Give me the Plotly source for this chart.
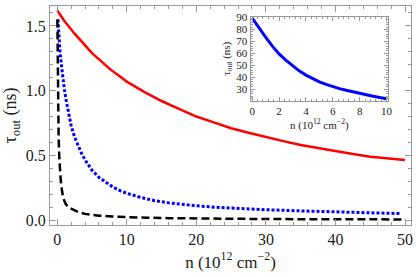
import plotly.graph_objects as go

# Main panel data
n_red = [0, 1, 2.5, 5, 7.5, 10, 12.5, 15, 17.5, 20, 22.5, 25, 27.5, 30, 32.5, 35, 37.5, 40, 42.5, 45, 47.5, 50]
tau_red = [1.62, 1.54, 1.44, 1.29, 1.17, 1.07, 0.99, 0.92, 0.86, 0.80, 0.755, 0.71, 0.675, 0.64, 0.61, 0.58, 0.555, 0.53, 0.51, 0.49, 0.475, 0.465]

n_blue = [0.1, 0.2, 0.4, 0.6, 0.8, 1.0, 1.3, 1.6, 2.0, 2.5, 3.0, 3.5, 4.0, 4.5, 5, 6, 7, 8, 9, 10, 12, 14, 16, 18, 20, 22.5, 25, 27.5, 30, 35, 40, 45, 49.3]
tau_blue = [1.55, 1.45, 1.30, 1.20, 1.10, 1.02, 0.92, 0.83, 0.73, 0.64, 0.575, 0.515, 0.465, 0.42, 0.385, 0.33, 0.29, 0.255, 0.228, 0.207, 0.175, 0.150, 0.133, 0.120, 0.110, 0.100, 0.092, 0.086, 0.080, 0.071, 0.063, 0.056, 0.050]

n_black = [0.02, 0.04, 0.07, 0.1, 0.15, 0.2, 0.3, 0.4, 0.5, 0.7, 0.9, 1.2, 1.6, 2.0, 2.5, 3, 4, 5, 6, 8, 10, 13, 16, 20, 25, 30, 35, 40, 45, 50]
tau_black = [1.55, 1.35, 1.10, 0.92, 0.76, 0.64, 0.48, 0.38, 0.31, 0.22, 0.165, 0.125, 0.10, 0.088, 0.075, 0.063, 0.048, 0.040, 0.034, 0.027, 0.022, 0.018, 0.015, 0.012, 0.010, 0.008, 0.007, 0.006, 0.0055, 0.005]

# Inset data
n_inset = [0, 0.5, 1, 1.5, 2, 2.5, 3, 3.5, 4, 4.5, 5, 5.5, 6, 6.5, 7, 7.5, 8, 8.5, 9, 9.5, 10]
tau_inset = [89.5, 81, 73.5, 66, 59.5, 54.3, 49.5, 45.3, 41.7, 38.7, 36, 33.9, 32, 30.4, 29, 27.6, 26.3, 25.1, 24, 22.9, 22]

x_ticks = [0, 10, 20, 30, 40, 50]
y_ticks = [0.0, 0.5, 1.0, 1.5]
y_tick_text = ["0.0", "0.5", "1.0", "1.5"]
xi_ticks = [0, 2, 4, 6, 8, 10]
yi_ticks = [30, 40, 50, 60, 70, 80, 90]

FONT = "Liberation Serif"
FRAME = "#999999"

fig = go.Figure()
fig.add_trace(go.Scatter(x=n_red, y=tau_red, mode="lines",
                         line=dict(color="#ff0000", width=2.5),
                         xaxis="x", yaxis="y", showlegend=False))
fig.add_trace(go.Scatter(x=n_blue, y=tau_blue, mode="lines",
                         line=dict(color="#0000ff", width=3, dash="3px,2px"),
                         xaxis="x", yaxis="y", showlegend=False))
fig.add_trace(go.Scatter(x=n_black, y=tau_black, mode="lines",
                         line=dict(color="#000000", width=2.5, dash="8px,4px"),
                         xaxis="x", yaxis="y", showlegend=False))
fig.add_trace(go.Scatter(x=n_inset, y=tau_inset, mode="lines",
                         line=dict(color="#0000ff", width=3),
                         xaxis="x2", yaxis="y2", showlegend=False))

axis_common = dict(showgrid=False, zeroline=False, showline=True, linecolor=FRAME,
                   linewidth=1, mirror="allticks", ticks="inside", tickcolor=FRAME)

fig.update_layout(
    width=416, height=277,
    margin=dict(l=50, r=3, t=1, b=52),
    paper_bgcolor="white", plot_bgcolor="white",
    font=dict(family=FONT, color="#222222"),
    xaxis=dict(**axis_common, domain=[0, 1], range=[-1.04, 50.86],
               tickvals=x_ticks, ticklen=6, tickfont=dict(size=16),
               minor=dict(dtick=2, tick0=0, ticks="inside", ticklen=3, tickcolor=FRAME),
               title=dict(text="n (10<sup>12</sup> cm<sup>−2</sup>)", font=dict(size=17), standoff=8)),
    yaxis=dict(**axis_common, domain=[0, 1], range=[-0.038, 1.654],
               tickvals=y_ticks, ticktext=y_tick_text, ticklen=6, tickfont=dict(size=16),
               minor=dict(dtick=0.1, tick0=0, ticks="inside", ticklen=3, tickcolor=FRAME),
               title=dict(text="τ<sub>out</sub> (ns)", font=dict(size=18), standoff=10)),
    xaxis2=dict(**axis_common, domain=[0.5556, 0.9366], anchor="y2", range=[-0.12, 10.12],
                tickvals=xi_ticks, ticklen=4, tickfont=dict(size=11),
                minor=dict(dtick=0.4, tick0=0, ticks="inside", ticklen=2, tickcolor=FRAME),
                title=dict(text="n (10<sup>12</sup> cm<sup>−2</sup>)", font=dict(size=11), standoff=4)),
    yaxis2=dict(**axis_common, domain=[0.566, 0.952], anchor="x2", range=[20, 90.8],
                tickvals=yi_ticks, ticklen=4, tickfont=dict(size=11),
                minor=dict(dtick=2, tick0=0, ticks="inside", ticklen=2, tickcolor=FRAME),
                title=dict(text="τ<sub>out</sub> (ns)", font=dict(size=11), standoff=3)),
)

fig.write_html("out.html", config={"displayModeBar": False},
               post_script="document.body.style.margin='0';document.body.style.overflow='hidden';")
